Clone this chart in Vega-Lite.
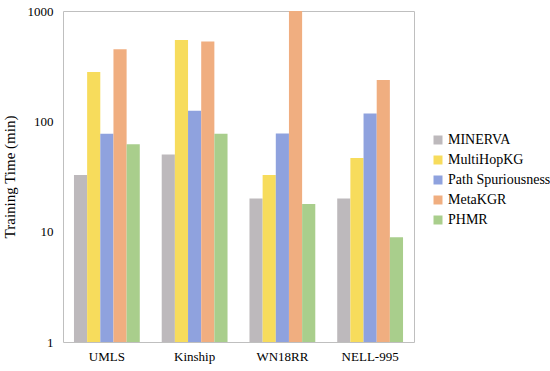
{
  "$schema": "https://vega.github.io/schema/vega-lite/v6.json",
  "width": 351,
  "height": 331,
  "autosize": "none",
  "padding": {"left": 63, "top": 11, "right": 136, "bottom": 29},
  "background": "white",
  "config": {
    "font": "Liberation Serif",
    "view": {"stroke": "#BFBFBF", "strokeWidth": 1}
  },
  "data": {
    "values": [
      {"dataset": "UMLS", "method": "MINERVA", "time": 32.7},
      {"dataset": "UMLS", "method": "MultiHopKG", "time": 280},
      {"dataset": "UMLS", "method": "Path Spuriousness", "time": 77},
      {"dataset": "UMLS", "method": "MetaKGR", "time": 450},
      {"dataset": "UMLS", "method": "PHMR", "time": 62},
      {"dataset": "Kinship", "method": "MINERVA", "time": 50},
      {"dataset": "Kinship", "method": "MultiHopKG", "time": 547},
      {"dataset": "Kinship", "method": "Path Spuriousness", "time": 125},
      {"dataset": "Kinship", "method": "MetaKGR", "time": 528},
      {"dataset": "Kinship", "method": "PHMR", "time": 77},
      {"dataset": "WN18RR", "method": "MINERVA", "time": 20},
      {"dataset": "WN18RR", "method": "MultiHopKG", "time": 32.7},
      {"dataset": "WN18RR", "method": "Path Spuriousness", "time": 77.5},
      {"dataset": "WN18RR", "method": "MetaKGR", "time": 1000},
      {"dataset": "WN18RR", "method": "PHMR", "time": 17.8},
      {"dataset": "NELL-995", "method": "MINERVA", "time": 20},
      {"dataset": "NELL-995", "method": "MultiHopKG", "time": 46.6},
      {"dataset": "NELL-995", "method": "Path Spuriousness", "time": 118},
      {"dataset": "NELL-995", "method": "MetaKGR", "time": 237},
      {"dataset": "NELL-995", "method": "PHMR", "time": 8.9}
    ]
  },
  "mark": {"type": "bar"},
  "encoding": {
    "x": {
      "field": "dataset",
      "type": "nominal",
      "sort": ["UMLS", "Kinship", "WN18RR", "NELL-995"],
      "scale": {"paddingInner": 0.25, "paddingOuter": 0.125},
      "axis": {"title": null, "labelAngle": 0, "labelFontSize": 13, "labelColor": "#000", "domain": false, "ticks": false, "labelPadding": 8}
    },
    "xOffset": {
      "field": "method",
      "type": "nominal",
      "sort": ["MINERVA", "MultiHopKG", "Path Spuriousness", "MetaKGR", "PHMR"],
      "scale": {"paddingInner": 0, "paddingOuter": 0}
    },
    "y": {
      "field": "time",
      "type": "quantitative",
      "scale": {"type": "log", "domain": [1, 1000]},
      "axis": {"title": "Training Time (min)", "titleFontSize": 15, "titleFontWeight": "normal", "titleColor": "#000", "titlePadding": 10, "labelFontSize": 13, "labelColor": "#000", "values": [1, 10, 100, 1000], "format": "d", "grid": false, "domain": false, "ticks": false, "labelPadding": 10}
    },
    "y2": {"datum": 1},
    "color": {
      "field": "method",
      "type": "nominal",
      "sort": ["MINERVA", "MultiHopKG", "Path Spuriousness", "MetaKGR", "PHMR"],
      "scale": {
        "domain": ["MINERVA", "MultiHopKG", "Path Spuriousness", "MetaKGR", "PHMR"],
        "range": ["#BDB9BC", "#F7DC5C", "#8FA2DE", "#F0AE80", "#A9CE8C"]
      },
      "legend": {
        "title": null,
        "orient": "none",
        "legendX": 368,
        "legendY": 122,
        "symbolType": "square",
        "symbolSize": 81,
        "symbolStrokeWidth": 0,
        "labelFontSize": 14,
        "labelColor": "#000",
        "rowPadding": 6,
        "labelOffset": 3,
        "labelLimit": 200
      }
    }
  }
}
